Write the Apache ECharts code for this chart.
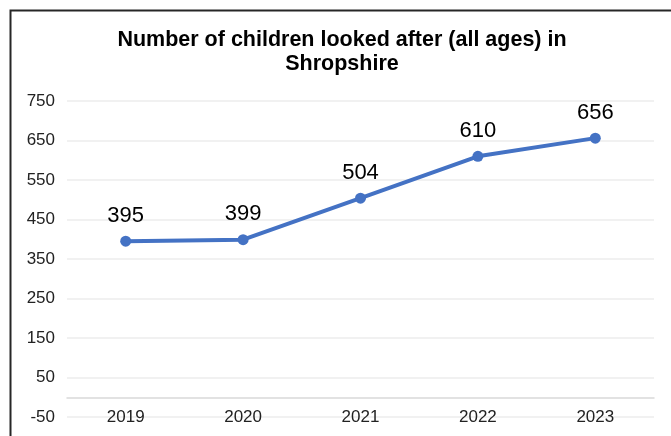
<!DOCTYPE html>
<html>
<head>
<meta charset="utf-8">
<script src="https://cdn.jsdelivr.net/npm/echarts@6/dist/echarts.min.js"></script>
<style>
html,body{margin:0;padding:0;background:#fff;}
#c{width:671px;height:436px;}
</style>
</head>
<body>
<div id="c"></div>
<script>
const titleText = "Number of children looked after (all ages) in\nShropshire";
const categories = ["2019", "2020", "2021", "2022", "2023"];
const values = [395, 399, 504, 610, 656];
const yMin = -50, yMax = 750, yStep = 100;

const chart = echarts.init(document.getElementById('c'), null, {renderer: 'canvas'});
const font = "'Liberation Sans', Arial, sans-serif";
chart.setOption({
  animation: false,
  backgroundColor: '#fff',
  graphic: [{
    type: 'rect', left: 8, top: 8,
    shape: {x: 0, y: 0, width: 720, height: 500},
    style: {fill: null, stroke: '#262626', lineWidth: 2},
    silent: true, z: 100
  }],
  title: {
    text: titleText,
    left: 342, top: 28, textAlign: 'center', padding: 0,
    textStyle: {fontFamily: font, fontSize: 21.5, fontWeight: 'bold', color: '#000', lineHeight: 24}
  },
  grid: {left: 67, right: 17, top: 101, bottom: 19, containLabel: false, outerBoundsMode: 'none'},
  xAxis: {
    type: 'category', data: categories, boundaryGap: true,
    axisLine: {show: true, onZero: true, lineStyle: {color: '#d9d9d9', width: 1.5}},
    axisTick: {show: false},
    axisLabel: {margin: -8, fontFamily: font, fontSize: 17, color: '#222'}
  },
  yAxis: {
    type: 'value', min: yMin, max: yMax, interval: yStep,
    axisLine: {show: false}, axisTick: {show: false},
    splitLine: {lineStyle: {color: '#ececec', width: 1.5}},
    axisLabel: {margin: 12, fontFamily: font, fontSize: 17, color: '#222'}
  },
  series: [{
    type: 'line', data: values,
    symbol: 'circle', symbolSize: 11,
    lineStyle: {color: '#4472C4', width: 4},
    itemStyle: {color: '#4472C4'},
    label: {show: true, position: 'top', distance: 9, fontFamily: font, fontSize: 22, color: '#000'}
  }]
});
</script>
</body>
</html>
